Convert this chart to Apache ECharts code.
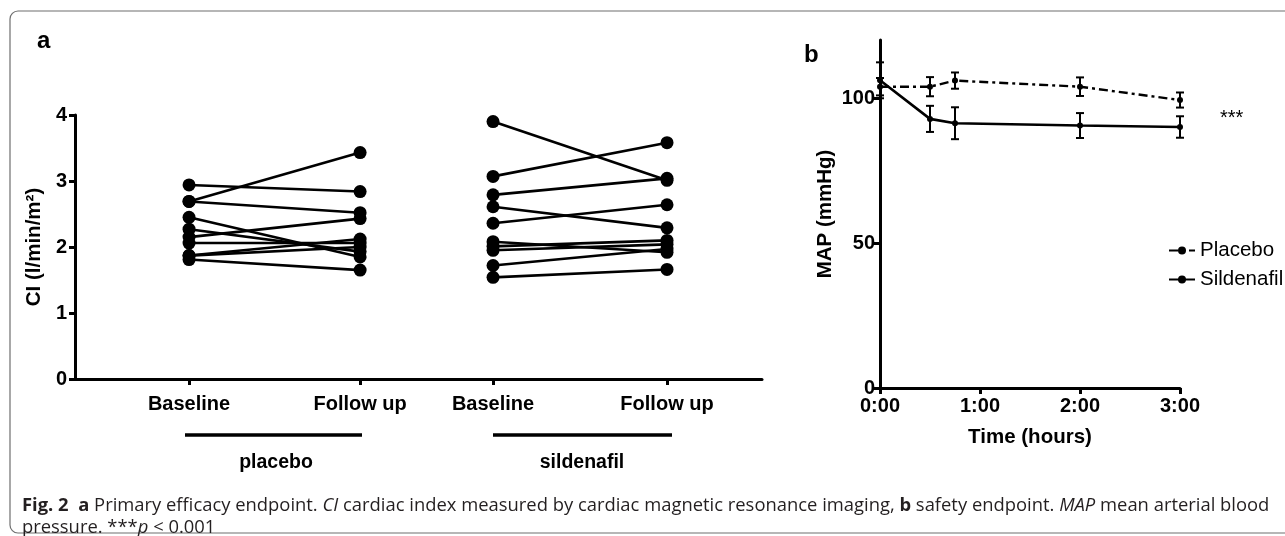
<!DOCTYPE html>
<html>
<head>
<meta charset="utf-8">
<script src="https://cdn.jsdelivr.net/npm/echarts@6/dist/echarts.min.js"></script>
<style>html,body{margin:0;padding:0;background:#fff;}#c{width:1285px;height:536px;}</style>
</head>
<body>
<div id="c"></div>
<script>
// ---- Panel a data ----
const aCategories = ['Baseline', 'Follow up', 'Baseline', 'Follow up'];
const aCategoryPos = [0.664, 1.66, 2.434, 3.447];
const aYTicks = [0, 1, 2, 3, 4];
const placeboBaseline = [2.94, 2.69, 2.69, 2.45, 2.27, 2.15, 2.06, 1.87, 1.87, 1.81];
const placeboFollowUp = [2.84, 3.43, 2.52, 1.85, 1.93, 2.43, 2.06, 2.12, 2.00, 1.65];
const sildenafilBaseline = [3.90, 3.07, 2.79, 2.61, 2.36, 2.08, 2.01, 1.95, 1.72, 1.54];
const sildenafilFollowUp = [3.01, 3.58, 3.04, 2.29, 2.64, 1.92, 2.10, 2.04, 1.97, 1.66];

// ---- Panel b data ----
const bTime = [0, 0.5, 0.75, 2, 3];
const bXTicks = [0, 1, 2, 3];
const bXTickLabels = ['0:00', '1:00', '2:00', '3:00'];
const bYTicks = [0, 50, 100];
const placeboMAP = [103.9, 103.9, 106.0, 103.9, 99.3];
const placeboErr = [3.0, 3.3, 2.8, 3.2, 2.6];
const sildenafilMAP = [106.1, 92.8, 91.3, 90.5, 90.0];
const sildenafilErr = [6.2, 4.5, 5.5, 4.3, 3.7];

const FONT = 'Liberation Sans, Arial, sans-serif';
const chart = echarts.init(document.getElementById('c'), null, {renderer: 'canvas'});

const series = [];
function pairSeries(base, follow, xb, xf) {
  base.forEach((v, i) => {
    series.push({
      type: 'line', xAxisIndex: 0, yAxisIndex: 0,
      data: [[xb, v], [xf, follow[i]]],
      symbol: 'circle', symbolSize: 13,
      lineStyle: {color: '#000', width: 2.6},
      itemStyle: {color: '#000'},
      silent: true, animation: false
    });
  });
}
pairSeries(placeboBaseline, placeboFollowUp, aCategoryPos[0], aCategoryPos[1]);
pairSeries(sildenafilBaseline, sildenafilFollowUp, aCategoryPos[2], aCategoryPos[3]);

function errRender(params, api) {
  const x = api.value(0), lo = api.value(1), hi = api.value(2);
  const p1 = api.coord([x, lo]), p2 = api.coord([x, hi]);
  const w = 4;
  const st = {stroke: '#000', lineWidth: 2};
  return {type: 'group', children: [
    {type: 'line', shape: {x1: p1[0], y1: p1[1], x2: p2[0], y2: p2[1]}, style: st},
    {type: 'line', shape: {x1: p1[0] - w, y1: p1[1], x2: p1[0] + w, y2: p1[1]}, style: st},
    {type: 'line', shape: {x1: p2[0] - w, y1: p2[1], x2: p2[0] + w, y2: p2[1]}, style: st}
  ]};
}

series.push({
  name: 'Placebo', type: 'line', xAxisIndex: 1, yAxisIndex: 1,
  data: bTime.map((t, i) => [t, placeboMAP[i]]),
  symbol: 'circle', symbolSize: 6,
  lineStyle: {color: '#000', width: 2.4, type: [9, 4, 3, 4]},
  itemStyle: {color: '#000'}, animation: false
});
series.push({
  name: 'Sildenafil', type: 'line', xAxisIndex: 1, yAxisIndex: 1,
  data: bTime.map((t, i) => [t, sildenafilMAP[i]]),
  symbol: 'circle', symbolSize: 6,
  lineStyle: {color: '#000', width: 2.6},
  itemStyle: {color: '#000'}, animation: false
});
series.push({
  type: 'custom', xAxisIndex: 1, yAxisIndex: 1, renderItem: errRender,
  encode: {x: 0, y: [1, 2]},
  data: bTime.map((t, i) => [t, placeboMAP[i] - placeboErr[i], placeboMAP[i] + placeboErr[i]]),
  animation: false, silent: true
});
series.push({
  type: 'custom', xAxisIndex: 1, yAxisIndex: 1, renderItem: errRender,
  encode: {x: 0, y: [1, 2]},
  data: bTime.map((t, i) => [t, sildenafilMAP[i] - sildenafilErr[i], sildenafilMAP[i] + sildenafilErr[i]]),
  animation: false, silent: true
});

const axisLine = {show: true, lineStyle: {color: '#000', width: 3}};
const axisTick = {show: true, inside: false, length: 6, lineStyle: {color: '#000', width: 3}};
const labelStyle = {color: '#000', fontFamily: FONT, fontWeight: 'bold', fontSize: 20};
const nameStyle = {color: '#000', fontFamily: FONT, fontWeight: 'bold', fontSize: 20.5};

chart.setOption({
  animation: false,
  backgroundColor: '#fff',
  grid: [
    {left: 75, top: 115, width: 687, height: 264},
    {left: 880, top: 40, width: 300, height: 348}
  ],
  xAxis: [
    {
      gridIndex: 0, type: 'value', min: 0, max: 4,
      axisLine: axisLine, splitLine: {show: false},
      axisTick: Object.assign({}, axisTick, {customValues: aCategoryPos}),
      axisLabel: Object.assign({}, labelStyle, {
        margin: 15, customValues: aCategoryPos,
        formatter: function (v) {
          let best = 0;
          aCategoryPos.forEach((p, i) => { if (Math.abs(p - v) < Math.abs(aCategoryPos[best] - v)) best = i; });
          return aCategories[best];
        }
      })
    },
    {
      gridIndex: 1, type: 'value', min: 0, max: 3,
      axisLine: axisLine, splitLine: {show: false},
      axisTick: Object.assign({}, axisTick, {customValues: bXTicks}),
      axisLabel: Object.assign({}, labelStyle, {
        margin: 8, customValues: bXTicks,
        formatter: function (v) { return bXTickLabels[bXTicks.indexOf(v)]; }
      }),
      name: 'Time (hours)', nameLocation: 'middle', nameGap: 39,
      nameTextStyle: nameStyle
    }
  ],
  yAxis: [
    {
      gridIndex: 0, type: 'value', min: 0, max: 4, interval: 1,
      axisLine: axisLine, splitLine: {show: false},
      axisTick: Object.assign({}, axisTick, {customValues: aYTicks}),
      axisLabel: Object.assign({}, labelStyle, {margin: 8, customValues: aYTicks}),
      name: 'CI (l/min/m²)', nameLocation: 'middle', nameRotate: 90, nameGap: 24,
      nameTextStyle: nameStyle
    },
    {
      gridIndex: 1, type: 'value', min: 0, max: 120,
      axisLine: axisLine, splitLine: {show: false},
      axisTick: Object.assign({}, axisTick, {customValues: bYTicks}),
      axisLabel: Object.assign({}, labelStyle, {margin: 5, customValues: bYTicks}),
      name: 'MAP (mmHg)', nameLocation: 'middle', nameRotate: 90, nameGap: 44,
      nameTextStyle: nameStyle
    }
  ],
  legend: {
    data: ['Placebo', 'Sildenafil'], orient: 'vertical', left: 1163, top: 235,
    itemWidth: 26, itemHeight: 10, itemGap: 8,
    textStyle: {color: '#000', fontFamily: FONT, fontSize: 20.5}
  },
  series: series,
  graphic: [
    {type: 'rect', shape: {x: 10, y: 11, width: 1300, height: 522, r: 8}, style: {fill: 'none', stroke: '#6e6e6e', lineWidth: 1.2}, silent: true, z: -10},
    {type: 'text', left: 37, top: 29, style: {text: 'a', fill: '#000', font: 'bold 24px ' + FONT}},
    {type: 'text', left: 804, top: 43, style: {text: 'b', fill: '#000', font: 'bold 24px ' + FONT}},
    {type: 'text', left: 1220, top: 108, style: {text: '***', fill: '#000', font: '20px ' + FONT}},
    {type: 'line', shape: {x1: 185, y1: 435, x2: 362, y2: 435}, style: {stroke: '#000', lineWidth: 3.5}},
    {type: 'line', shape: {x1: 493, y1: 435, x2: 672, y2: 435}, style: {stroke: '#000', lineWidth: 3.5}},
    {type: 'text', x: 276, y: 463, style: {text: 'placebo', fill: '#000', font: 'bold 19.5px ' + FONT, textAlign: 'center', textVerticalAlign: 'middle'}},
    {type: 'text', x: 582, y: 463, style: {text: 'sildenafil', fill: '#000', font: 'bold 19.5px ' + FONT, textAlign: 'center', textVerticalAlign: 'middle'}},
    {type: 'text', x: 22, y: 495, style: {
      text: '{b|Fig. 2}  {b|a} Primary efficacy endpoint. {i|CI} cardiac index measured by cardiac magnetic resonance imaging, {b|b} safety endpoint. {i|MAP} mean arterial blood\npressure. ***{i|p} < 0.001',
      fill: '#231f20', fontFamily: 'Open Sans', fontSize: 18.4, lineHeight: 22,
      rich: {
        b: {fontWeight: 'bold', fontFamily: 'Open Sans', fontSize: 18.4, fill: '#231f20', lineHeight: 22},
        i: {fontStyle: 'italic', fontFamily: 'Open Sans', fontSize: 18.4, fill: '#231f20', lineHeight: 22}
      }
    }}
  ]
});
</script>
</body>
</html>
